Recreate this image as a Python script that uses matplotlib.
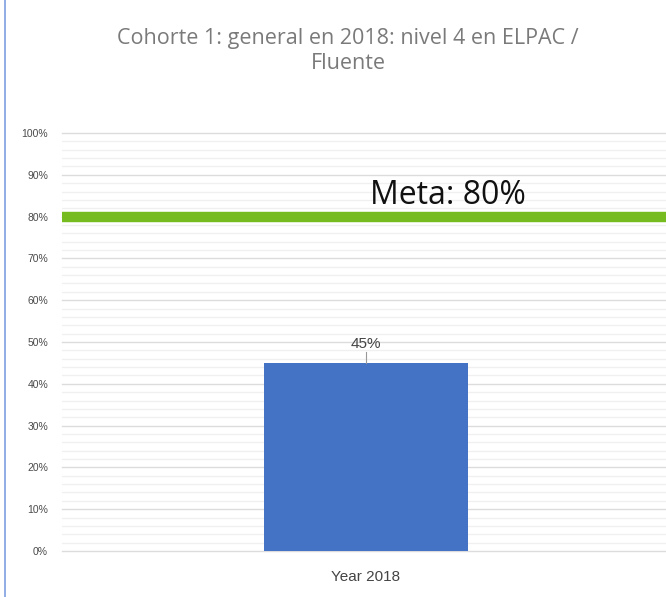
import matplotlib.pyplot as plt
from matplotlib.ticker import MultipleLocator, PercentFormatter
from matplotlib.lines import Line2D

# data
categories = ['Year 2018']
values = [0.45]
labels = ['45%']
goal = 0.80
goal_label = 'Meta: 80%'
title = 'Cohorte 1: general en 2018: nivel 4 en ELPAC /\nFluente'

fig = plt.figure(figsize=(6.66, 5.97), dpi=100)
ax = fig.add_axes([62 / 666, 46 / 597, 604 / 666, 418 / 597])

x = list(range(len(categories)))
ax.bar(x, values, width=0.338, color='#4472c4', zorder=3)
ax.set_xlim(-0.503, 0.497)
ax.set_ylim(0, 1.0)

# value labels with a small leader line
for xi, v, lab in zip(x, values, labels):
    ax.plot([xi, xi], [v, v + 0.026], color='#999999', lw=0.8, zorder=3)
    ax.text(xi, v + 0.028, lab, ha='center', va='bottom', fontsize=11,
            color='#444444', family='Liberation Sans')

# goal line
ax.axhline(goal, color='#76bc21', lw=7.5, zorder=4, solid_capstyle='butt')
ax.text(0.007, goal + 0.05, goal_label, ha='left', va='center', fontsize=23,
        color='#111111', family='Open Sans')

# grid
ax.yaxis.set_major_locator(MultipleLocator(0.1))
ax.yaxis.set_minor_locator(MultipleLocator(0.02))
ax.yaxis.set_major_formatter(PercentFormatter(1.0, decimals=0))
ax.grid(axis='y', which='major', color='#dcdcdc', lw=1.0, zorder=0)
ax.grid(axis='y', which='minor', color='#f0f0f0', lw=1.0, zorder=0)
for gl in ax.get_ygridlines():
    gl.set_clip_on(False)

ax.set_xticks(x)
ax.set_xticklabels(categories, fontsize=11, color='#444444', family='Liberation Sans')
ax.tick_params(axis='x', length=0, pad=14)
ax.tick_params(axis='y', which='both', length=0, pad=10, labelsize=7.5,
               labelcolor='#4a4a4a')
for t in ax.get_yticklabels():
    t.set_family('Liberation Sans')
for s in ax.spines.values():
    s.set_visible(False)

fig.text(348 / 666, 1 - 51 / 597, title, ha='center', va='center', fontsize=15.5,
         color='#7a7a7a', family='Open Sans', linespacing=1.3)

# left border line of the original screenshot
fig.add_artist(Line2D([5 / 666, 5 / 666], [0, 1], color='#7fa0e0', lw=1.2))

fig.savefig('out.png', dpi=100)
